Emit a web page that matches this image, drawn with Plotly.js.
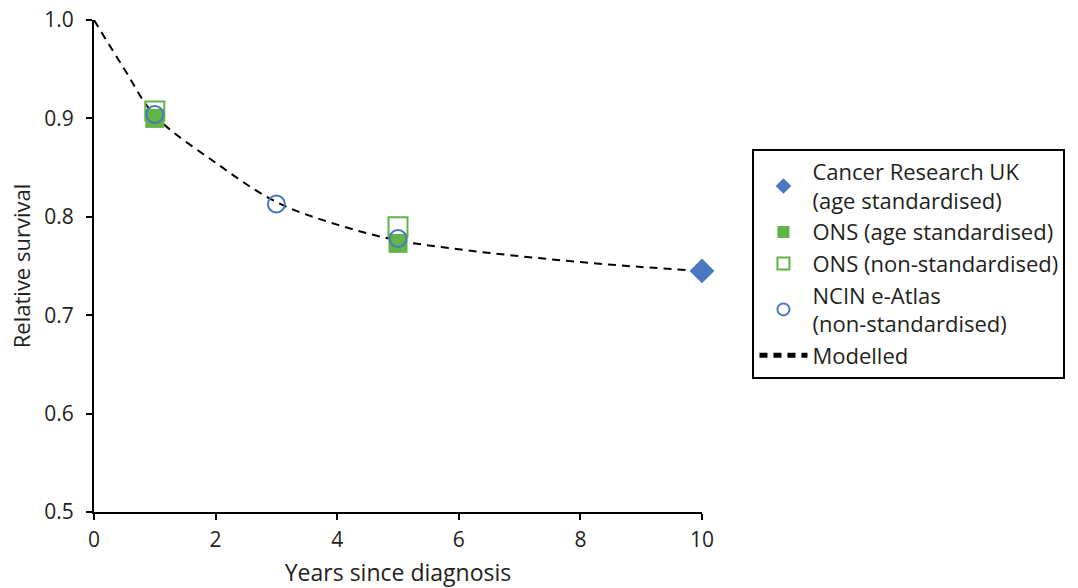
<!DOCTYPE html>
<html>
<head>
<meta charset="utf-8">
<script src="https://cdn.plot.ly/plotly-3.0.1.min.js"></script>
<style>html,body{margin:0;padding:0;background:#fff;}#chart{width:1078px;height:588px;}</style>
</head>
<body>
<div id="chart"></div>
<script>
// Data
const modelYears = [0, 0.5, 1, 2, 3, 4, 5, 6, 7, 8, 9, 10];
const modelSurvival = [1.0, 0.95, 0.903, 0.855, 0.815, 0.792, 0.776, 0.767, 0.760, 0.754, 0.749, 0.745];

const cruYears = [10];
const cruSurvival = [0.745];

const onsAgeYears = [1, 5];
const onsAgeSurvival = [0.900, 0.773];

const onsNonYears = [1, 5];
const onsNonSurvival = [0.9075, 0.790];

const ncinYears = [1, 3, 5];
const ncinSurvival = [0.904, 0.813, 0.778];

const xTicks = [0, 2, 4, 6, 8, 10];
const yTicks = [0.5, 0.6, 0.7, 0.8, 0.9, 1.0];

const blue = '#4A78BE';
const green = '#62B446';

const traces = [
  {
    x: modelYears, y: modelSurvival, mode: 'lines', name: 'Modelled',
    line: {color: '#000', width: 2, dash: '8px,6px', shape: 'spline'},
    legendrank: 5, cliponaxis: false, hoverinfo: 'skip'
  },
  {
    x: onsNonYears, y: onsNonSurvival, mode: 'markers', name: 'ONS (non-standardised)',
    marker: {symbol: 'square-open', size: 19, color: green, line: {width: 2, color: green}},
    legendrank: 3, cliponaxis: false
  },
  {
    x: onsAgeYears, y: onsAgeSurvival, mode: 'markers', name: 'ONS (age standardised)',
    marker: {symbol: 'square', size: 19, color: green, line: {width: 0}},
    legendrank: 2, cliponaxis: false
  },
  {
    x: ncinYears, y: ncinSurvival, mode: 'markers', name: 'NCIN e-Atlas<br>(non-standardised)',
    marker: {symbol: 'circle-open', size: 17, color: blue, line: {width: 2, color: blue}},
    legendrank: 4, cliponaxis: false
  },
  {
    x: cruYears, y: cruSurvival, mode: 'markers', name: 'Cancer Research UK<br>(age standardised)',
    marker: {symbol: 'diamond', size: 19, color: blue, line: {width: 0}},
    legendrank: 1, cliponaxis: false
  }
];

const layout = {
  width: 1078, height: 588,
  margin: {l: 94, r: 376, t: 20, b: 76},
  paper_bgcolor: '#fff', plot_bgcolor: '#fff',
  font: {family: 'Open Sans, Noto Sans, sans-serif', color: '#231F20', size: 21},
  showlegend: true,
  legend: {
    x: 1.083, xanchor: 'left', y: 0.738, yanchor: 'top',
    bordercolor: '#000', borderwidth: 2, bgcolor: '#fff',
    font: {size: 22, color: '#231F20'},
    itemwidth: 48, tracegroupgap: 0, itemsizing: 'constant'
  },
  xaxis: {
    range: [0, 10], tickvals: xTicks, ticktext: xTicks.map(String),
    showline: true, linecolor: '#000', linewidth: 2,
    ticks: 'outside', ticklen: 6, tickwidth: 2, tickcolor: '#000',
    showgrid: false, zeroline: false,
    tickfont: {size: 21}, ticklabelstandoff: 2,
    title: {text: 'Years since diagnosis', font: {size: 23}, standoff: 15}
  },
  yaxis: {
    range: [0.5, 1.0], tickvals: yTicks, ticktext: yTicks.map(v => v.toFixed(1)),
    showline: true, linecolor: '#000', linewidth: 2,
    ticks: 'outside', ticklen: 6, tickwidth: 2, tickcolor: '#000',
    showgrid: false, zeroline: false,
    tickfont: {size: 21}, ticklabelstandoff: 8,
    title: {text: 'Relative survival', font: {size: 22}, standoff: 8}
  }
};

Plotly.newPlot('chart', traces, layout, {staticPlot: true, displayModeBar: false});
</script>
</body>
</html>
